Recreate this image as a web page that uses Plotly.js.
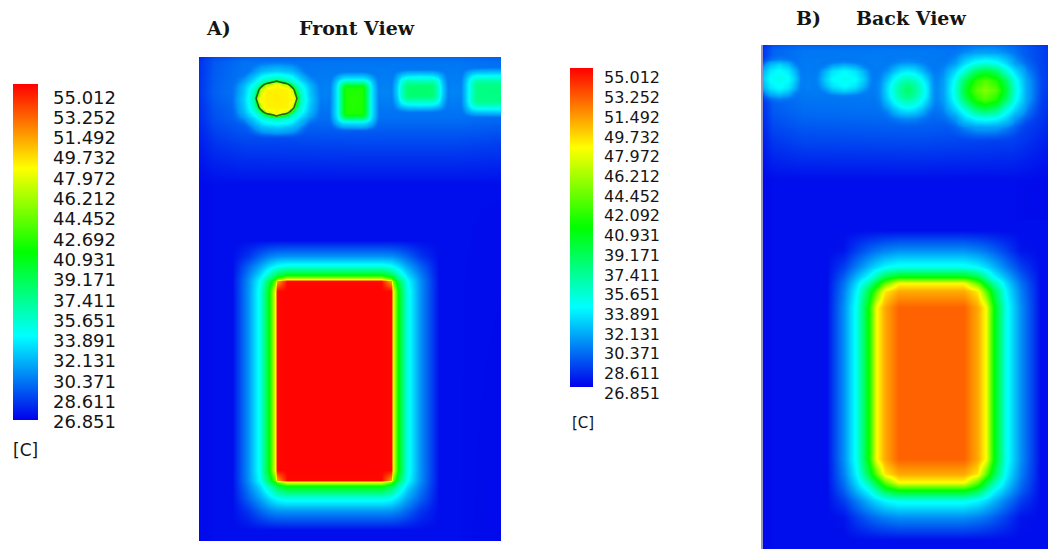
<!DOCTYPE html>
<html>
<head>
<meta charset="utf-8">
<script src="https://cdn.plot.ly/plotly-3.0.1.min.js"></script>
<style>
html,body{margin:0;padding:0;background:#ffffff;}
#chart{width:1048px;height:549px;}
</style>
</head>
<body>
<div id="chart"></div>
<script>
// ---------- temperature scale [C] ----------
const tempMin = 26.851;
const tempMax = 55.012;
const labelsFront = ['55.012','53.252','51.492','49.732','47.972','46.212','44.452','42.692','40.931','39.171','37.411','35.651','33.891','32.131','30.371','28.611','26.851'];
const labelsBack  = ['55.012','53.252','51.492','49.732','47.972','46.212','44.452','42.092','40.931','39.171','37.411','35.651','33.891','32.131','30.371','28.611','26.851'];
const unitLabel = '[C]';
const panelTitles = ['A)', 'Front View', 'B)', 'Back View'];

// ---------- FRONT VIEW (panel units: 302 wide, 484 tall) ----------
const frontBgX = [0, 15, 45, 151, 260, 302];
const frontBgY = [0, 5, 35, 62, 88, 128, 484];
const frontBgT = [
  [28.0, 28.9, 29.5, 29.7, 29.7, 29.5],
  [28.2, 29.3, 30.0, 30.1, 30.1, 29.9],
  [28.3, 29.5, 30.3, 30.5, 30.5, 30.3],
  [28.0, 29.0, 29.7, 29.9, 29.9, 29.7],
  [27.6, 28.2, 28.6, 28.7, 28.7, 28.5],
  [27.1, 27.2, 27.2, 27.2, 27.2, 27.2],
  [27.1, 27.2, 27.2, 27.2, 27.2, 27.1]
];

// main heat block (front)
const frontBlockX = [33, 49, 61, 70, 75.5, 77.5, 87.5, 181.5, 191.5, 193.5, 199, 208, 221, 240];
const frontBlockY = [183, 199, 209, 218, 221.5, 223.5, 233.5, 412.5, 422.5, 424.5, 429, 441, 454, 473];
const frontBlockRing = [0, 1, 2, 3, 4, 5, 6, 6, 5, 4, 3, 2, 1, 0];
const frontBlockT = [
  [27.2, 27.2, 27.2, 27.2, 27.2, 27.2, 27.2],
  [27.2, 28.3, 29.6, 30.4, 30.7, 30.8, 30.9],
  [27.2, 29.6, 31.4, 33.0, 33.8, 34.1, 34.6],
  [27.2, 30.4, 33.0, 35.8, 38.0, 38.9, 40.8],
  [27.2, 30.7, 33.8, 38.0, 41.0, 43.6, 47.6],
  [27.2, 30.8, 34.1, 38.9, 43.6, 50.5, 54.8],
  [27.2, 30.9, 34.6, 40.8, 47.6, 54.8, 54.9]
];

// round source (front, top left)
const frontCircleX = [29.9, 44.5, 54.3, 57.5, 59.1, 61.9, 66.5, 77.5, 88.5, 93.1, 95.9, 97.5, 100.7, 110.5, 125.1];
const frontCircleY = [1, 13.5, 21.8, 24.5, 25.9, 28.2, 32.15, 41.5, 50.85, 54.8, 57.1, 58.5, 61.2, 69.5, 82];
const frontCircleRing = [0, 1, 2, 3, 4, 5, 6, 7, 6, 5, 4, 3, 2, 1, 0];
const frontCircleT = [
  [29.5, 29.5, 29.5, 29.5, 29.5, 29.5, 29.5, 29.5],
  [29.5, 29.7, 31.0, 31.4, 31.6, 31.9, 32.2, 32.6],
  [29.5, 31.0, 32.7, 33.5, 33.8, 34.5, 35.3, 36.2],
  [29.5, 31.4, 33.5, 34.3, 34.7, 35.4, 37.1, 44.0],
  [29.5, 31.6, 33.8, 34.7, 35.2, 35.9, 40.5, 48.3],
  [29.5, 31.9, 34.5, 35.4, 35.9, 39.0, 46.5, 48.3],
  [29.5, 32.2, 35.3, 37.1, 40.5, 46.5, 48.3, 48.3],
  [29.5, 32.6, 36.2, 44.0, 48.3, 48.3, 48.3, 48.5]
];

// square source (front)
const frontRectX = [128, 137, 142, 146, 154.5, 163, 167, 172, 181];
const frontRectY = [12, 21, 26, 30, 43, 56, 60, 65, 74];
const frontRectT = [
  [29.5, 29.5, 29.5, 29.5, 29.5],
  [29.5, 31.8, 32.9, 33.3, 33.3],
  [29.5, 32.9, 36.5, 38.2, 38.2],
  [29.5, 33.3, 38.2, 41.7, 41.7],
  [29.5, 33.3, 38.2, 41.7, 42.0]
];

// flat source (front)
const frontFlatX = [190, 198, 203, 208, 220.5, 233, 238, 243, 251];
const frontFlatY = [10, 17, 23, 28, 33, 38, 43, 49, 56];
const frontFlatT = [
  [29.5, 29.5, 29.5, 29.5, 29.5],
  [29.5, 31.2, 32.1, 32.6, 32.8],
  [29.5, 32.1, 34.8, 35.8, 35.8],
  [29.5, 32.6, 35.8, 37.8, 37.8],
  [29.5, 32.8, 35.8, 37.8, 38.0]
];

// edge source (front, right)
const frontEdgeX = [259, 266, 272, 277, 290, 302];
const frontEdgeRingX = [0, 1, 2, 3, 4, 4];
const frontEdgeY = [8, 15, 21, 26, 34.5, 43, 48, 54, 61];
const frontEdgeT = [
  [29.5, 29.5, 29.5, 29.5, 29.5],
  [29.5, 31.1, 32.0, 32.4, 32.5],
  [29.5, 32.0, 34.5, 35.4, 35.4],
  [29.5, 32.4, 35.4, 37.2, 37.2],
  [29.5, 32.5, 35.4, 37.2, 37.4]
];
const smallRing = [0, 1, 2, 3, 4, 3, 2, 1, 0];
const spotRing = [0, 1, 2, 3, 4, 5, 4, 3, 2, 1, 0];

// ---------- BACK VIEW (panel units: 285 wide, 504 tall) ----------
const backBgX = [0, 10, 40, 150, 250, 285];
const backBgY = [0, 5, 40, 70, 98, 135, 504];
const backBgT = [
  [28.0, 29.1, 29.6, 29.7, 29.5, 28.2],
  [28.3, 29.6, 30.1, 30.2, 29.9, 28.4],
  [28.5, 29.9, 30.4, 30.5, 30.1, 28.5],
  [28.1, 29.2, 29.7, 29.9, 29.5, 28.1],
  [27.6, 28.3, 28.7, 28.8, 28.5, 27.6],
  [27.1, 27.2, 27.2, 27.2, 27.2, 27.1],
  [27.1, 27.2, 27.2, 27.2, 27.2, 27.1]
];

const backBlockX = [63, 80, 93, 105, 113, 121, 135, 200, 214, 222, 230, 242, 257, 277];
const backBlockY = [185, 205, 222, 232, 238, 246, 262, 414, 429, 437, 445, 455, 472, 495];
const backBlockRing = [0, 1, 2, 3, 4, 5, 6, 6, 5, 4, 3, 2, 1, 0];
const backBlockT = [
  [27.2, 27.2, 27.2, 27.2, 27.2, 27.2, 27.2],
  [27.2, 27.4, 28.6, 29.5, 30.0, 30.4, 30.8],
  [27.2, 28.6, 30.4, 32.0, 33.0, 33.8, 34.5],
  [27.2, 29.5, 32.0, 34.0, 36.4, 39.0, 41.0],
  [27.2, 30.0, 33.0, 36.4, 39.6, 43.6, 48.0],
  [27.2, 30.4, 33.8, 39.0, 43.6, 48.5, 50.3],
  [27.2, 30.8, 34.5, 41.0, 48.0, 50.3, 52.3]
];

// four top sources (back)
const backSpot1X = [-14, -5, 1, 7, 16, 25, 31, 37, 46];
const backSpot1Y = [5.5, 13.9, 19.5, 25.1, 33.5, 41.9, 47.5, 53.1, 61.5];
const backSpot1T = [
  [29.5, 29.5, 29.5, 29.5, 29.5],
  [29.5, 29.6, 30.1, 30.4, 30.7],
  [29.5, 30.1, 30.8, 32.0, 32.8],
  [29.5, 30.4, 32.0, 33.3, 34.0],
  [29.5, 30.7, 32.8, 34.0, 34.4]
];
const backSpot2X = [43, 54.4, 62, 69.6, 81, 92.4, 100, 107.6, 119];
const backSpot2Y = [9.5, 16.7, 21.5, 26.3, 33.5, 40.7, 45.5, 50.3, 57.5];
const backSpot2T = [
  [29.5, 29.5, 29.5, 29.5, 29.5],
  [29.5, 29.6, 30.1, 30.4, 30.7],
  [29.5, 30.1, 30.8, 31.9, 32.6],
  [29.5, 30.4, 31.9, 33.2, 33.9],
  [29.5, 30.7, 32.6, 33.9, 34.3]
];
const backSpot3X = [104.5, 116.5, 124.5, 130.5, 137.5, 144.5, 151.5, 158.5, 164.5, 172.5, 184.5];
const backSpot3Y = [5, 17, 25, 31, 38, 45, 52, 59, 65, 73, 85];
const backSpot3T = [
  [29.5, 29.5, 29.5, 29.5, 29.5, 29.5],
  [29.5, 29.6, 30.2, 30.5, 30.8, 30.9],
  [29.5, 30.2, 30.9, 31.9, 32.9, 33.2],
  [29.5, 30.5, 31.9, 33.3, 34.5, 35.0],
  [29.5, 30.8, 32.9, 34.5, 36.2, 37.0],
  [29.5, 30.9, 33.2, 35.0, 37.0, 38.2]
];
const backSpot4X = [162, 180, 192, 201, 211.5, 222, 232.5, 243, 252, 264, 282];
const backSpot4Y = [-9.5, 6.7, 17.5, 25.6, 35.05, 44.5, 53.95, 63.4, 71.5, 82.3, 98.5];
const backSpot4T = [
  [29.5, 29.5, 29.5, 29.5, 29.5, 29.5],
  [29.5, 29.6, 30.3, 30.8, 31.2, 31.3],
  [29.5, 30.3, 31.2, 32.9, 34.3, 34.8],
  [29.5, 30.8, 32.9, 35.0, 38.2, 39.5],
  [29.5, 31.2, 34.3, 38.2, 41.7, 43.2],
  [29.5, 31.3, 34.8, 39.5, 43.2, 44.5]
];

// ---------- build ----------
function ringGrid(ringY, ringX, table) {
  return ringY.map(a => ringX.map(b => table[a][b]));
}

const rainbow = [
  [0, 'rgb(0,0,235)'], [0.25, 'rgb(0,255,255)'], [0.5, 'rgb(0,255,0)'],
  [0.75, 'rgb(255,255,0)'], [1, 'rgb(255,0,0)']
];
const rainbowFade = [
  [0, 'rgba(0,0,235,0)'], [0.1047, 'rgba(0,107,245,0)'], [0.1473, 'rgba(0,150,248,1)'],
  [0.25, 'rgb(0,255,255)'], [0.5, 'rgb(0,255,0)'], [0.75, 'rgb(255,255,0)'], [1, 'rgb(255,0,0)']
];

const W = 1048, H = 549;

function field(x, y, z, xa, ya, scale, extra) {
  return Object.assign({
    type: 'heatmap', x: x, y: y, z: z, xaxis: xa, yaxis: ya,
    zsmooth: 'best', zmin: tempMin, zmax: tempMax,
    colorscale: scale, showscale: false, hoverinfo: 'skip'
  }, extra || {});
}

function colorbarSpec(left, top, thick, length) {
  return {
    x: left / W, xanchor: 'left', y: 1 - top / H, yanchor: 'top',
    thickness: thick, thicknessmode: 'pixels', len: length, lenmode: 'pixels',
    xpad: 0, ypad: 0, outlinewidth: 0, borderwidth: 0,
    showticklabels: false, ticks: ''
  };
}

const circleZ = ringGrid(frontCircleRing, frontCircleRing, frontCircleT);

const traces = [
  field(frontBgX, frontBgY, frontBgT, 'x', 'y', rainbow,
        {showscale: true, colorbar: colorbarSpec(13, 84, 25, 336)}),
  field(frontBlockX, frontBlockY, ringGrid(frontBlockRing, frontBlockRing, frontBlockT), 'x', 'y', rainbow),
  field(frontCircleX, frontCircleY, circleZ, 'x', 'y', rainbowFade),
  field(frontRectX, frontRectY, ringGrid(smallRing, smallRing, frontRectT), 'x', 'y', rainbowFade),
  field(frontFlatX, frontFlatY, ringGrid(smallRing, smallRing, frontFlatT), 'x', 'y', rainbowFade),
  field(frontEdgeX, frontEdgeY, ringGrid(smallRing, frontEdgeRingX, frontEdgeT), 'x', 'y', rainbowFade),
  {
    type: 'contour', x: frontCircleX, y: frontCircleY, z: circleZ, xaxis: 'x', yaxis: 'y',
    autocontour: false, contours: {start: 43, end: 43, size: 1, coloring: 'none'},
    line: {color: 'rgba(35,75,25,0.9)', width: 1.6, smoothing: 1.3},
    showscale: false, hoverinfo: 'skip'
  },
  field(backBgX, backBgY, backBgT, 'x2', 'y2', rainbow,
        {showscale: true, colorbar: colorbarSpec(570, 68, 23, 319)}),
  field(backBlockX, backBlockY, ringGrid(backBlockRing, backBlockRing, backBlockT), 'x2', 'y2', rainbow),
  field(backSpot1X, backSpot1Y, ringGrid(smallRing, smallRing, backSpot1T), 'x2', 'y2', rainbowFade),
  field(backSpot2X, backSpot2Y, ringGrid(smallRing, smallRing, backSpot2T), 'x2', 'y2', rainbowFade),
  field(backSpot3X, backSpot3Y, ringGrid(spotRing, spotRing, backSpot3T), 'x2', 'y2', rainbowFade),
  field(backSpot4X, backSpot4Y, ringGrid(spotRing, spotRing, backSpot4T), 'x2', 'y2', rainbowFade)
];

const annotations = [];
function addText(txt, px, py, size, family, weight) {
  annotations.push({
    text: txt, xref: 'paper', yref: 'paper', x: px / W, y: 1 - py / H,
    xanchor: 'left', yanchor: 'middle', showarrow: false,
    font: {family: family, size: size, color: '#151515', weight: weight || 'normal'}
  });
}
labelsFront.forEach((t, i) => addText(t, 51, 97 + i * 20.3, 18, 'DejaVu Sans'));
addText(unitLabel, 11, 450, 17, 'DejaVu Sans');
labelsBack.forEach((t, i) => addText(t, 602, 78 + i * 19.7, 16, 'DejaVu Sans'));
addText(unitLabel, 570, 423, 15, 'DejaVu Sans');
addText(panelTitles[0], 204, 28, 19, 'DejaVu Serif', 'bold');
addText(panelTitles[1], 297, 28, 19, 'DejaVu Serif', 'bold');
addText(panelTitles[2], 794, 18, 19, 'DejaVu Serif', 'bold');
addText(panelTitles[3], 854, 18, 19, 'DejaVu Serif', 'bold');

const hidden = {showgrid: false, zeroline: false, showticklabels: false, ticks: '', showline: false, fixedrange: true};

const layout = {
  width: W, height: H,
  margin: {l: 0, r: 0, t: 0, b: 0, pad: 0},
  paper_bgcolor: '#ffffff', plot_bgcolor: '#ffffff',
  showlegend: false,
  font: {family: 'DejaVu Sans', color: '#151515'},
  xaxis: Object.assign({domain: [199 / W, 501 / W], range: [0, 302], anchor: 'y'}, hidden),
  yaxis: Object.assign({domain: [8 / H, 492 / H], range: [484, 0], anchor: 'x'}, hidden),
  xaxis2: Object.assign({domain: [763 / W, 1], range: [0, 285], anchor: 'y2'}, hidden),
  yaxis2: Object.assign({}, hidden, {domain: [0, 504 / H], range: [504, 0], anchor: 'x2',
          showline: true, linecolor: 'rgb(150,150,195)', linewidth: 2}),
  annotations: annotations
};

Plotly.newPlot('chart', traces, layout, {staticPlot: true, displayModeBar: false});
</script>
</body>
</html>
